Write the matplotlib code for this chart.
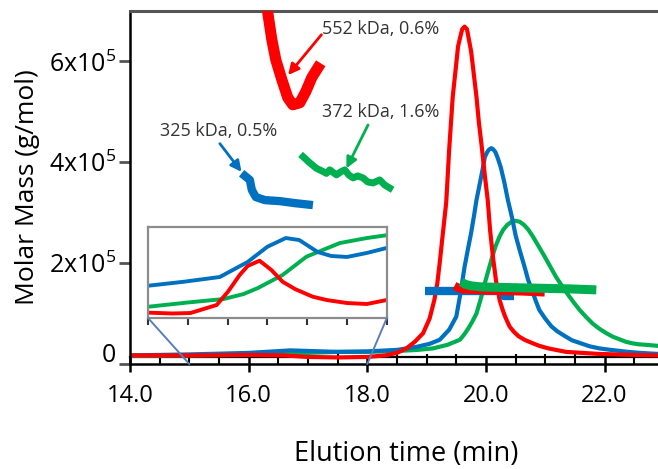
import numpy as np
import matplotlib
matplotlib.use("Agg")
import matplotlib.pyplot as plt
from matplotlib.patches import ConnectionPatch
from matplotlib.transforms import ScaledTranslation

plt.rcParams['font.family'] = ['Open Sans', 'DejaVu Sans']
plt.rcParams['mathtext.default'] = 'regular'

# chromatograms (detector trace, plotted on the molar mass scale, x1e5)
red_t = [14.0, 15.0, 16.0, 16.6, 17.0, 17.5, 18.0, 18.3, 18.5, 18.66, 18.8, 18.94, 19.05, 19.13,
         19.18, 19.22, 19.27, 19.33, 19.38, 19.44, 19.49, 19.53, 19.57, 19.60, 19.64, 19.68,
         19.71, 19.75, 19.79, 19.84, 19.88, 19.93, 19.98, 20.03, 20.07, 20.12, 20.17, 20.23,
         20.28, 20.32, 20.36, 20.40, 20.47, 20.55, 20.65, 20.79, 20.9, 21.05, 21.35, 21.9,
         22.47, 22.9]
red_s = [0.17, 0.17, 0.18, 0.17, 0.14, 0.13, 0.14, 0.17, 0.22, 0.31, 0.44, 0.61, 0.90, 1.27,
         1.6, 2.0, 2.55, 3.2, 4.25, 5.3, 5.85, 6.3, 6.5, 6.64, 6.69, 6.64,
         6.45, 6.2, 5.8, 5.3, 4.8, 4.3, 3.75, 3.25, 2.65, 2.1, 1.65, 1.27,
         1.08, 0.95, 0.84, 0.74, 0.64, 0.55, 0.48, 0.41, 0.36, 0.31, 0.24, 0.20,
         0.18, 0.17]
blue_t = [14.0, 15.0, 16.0, 16.7, 17.5, 18.0, 18.5, 18.83, 19.05, 19.22, 19.38, 19.50, 19.57,
          19.64, 19.70, 19.75, 19.80, 19.84, 19.90, 19.95, 19.98, 20.02, 20.05, 20.09, 20.12,
          20.16, 20.20, 20.25, 20.31, 20.37, 20.44, 20.50, 20.57, 20.65, 20.71, 20.78, 20.84,
          20.90, 21.0, 21.1, 21.2, 21.35, 21.45, 21.6, 21.75, 21.91, 22.1, 22.4, 22.6, 22.9]
blue_s = [0.17, 0.19, 0.22, 0.27, 0.24, 0.25, 0.28, 0.34, 0.40, 0.48, 0.68, 0.94, 1.4,
          1.93, 2.3, 2.6, 2.95, 3.25, 3.6, 3.9, 4.1, 4.2, 4.25, 4.28, 4.26,
          4.2, 4.08, 3.9, 3.6, 3.25, 2.9, 2.55, 2.25, 1.93, 1.67, 1.45, 1.25,
          1.07, 0.9, 0.75, 0.65, 0.54, 0.47, 0.41, 0.35, 0.31, 0.28, 0.24, 0.22, 0.20]
green_t = [14.0, 15.0, 16.0, 17.0, 17.5, 18.0, 18.55, 18.85, 19.11, 19.35, 19.56, 19.63, 19.70,
           19.77, 19.84, 19.91, 19.98, 20.04, 20.10, 20.16, 20.23, 20.29, 20.36, 20.43, 20.50,
           20.57, 20.64, 20.71, 20.79, 20.88, 20.98, 21.08, 21.18, 21.28, 21.38, 21.48, 21.58,
           21.69, 21.8, 21.91, 22.03, 22.14, 22.25, 22.36, 22.47, 22.58, 22.7, 22.9]
green_s = [0.16, 0.17, 0.18, 0.22, 0.24, 0.24, 0.26, 0.28, 0.31, 0.38, 0.48, 0.58, 0.70,
           0.84, 1.00, 1.28, 1.60, 1.85, 2.10, 2.33, 2.53, 2.66, 2.76, 2.82, 2.84,
           2.82, 2.76, 2.67, 2.53, 2.35, 2.15, 1.94, 1.73, 1.55, 1.38, 1.22, 1.07,
           0.93, 0.80, 0.70, 0.61, 0.54, 0.49, 0.44, 0.41, 0.39, 0.38, 0.36]

# molar mass across the peaks (x1e5 g/mol)
red_mm_t = [19.47, 19.52, 19.60, 19.80, 20.20, 20.60, 20.99]
red_mm = [1.55, 1.52, 1.48, 1.47, 1.45, 1.44, 1.42]
blue_mm_t = [18.98, 20.30, 20.30, 20.48]
blue_mm = [1.45, 1.45, 1.35, 1.35]
green_mm_t = [19.58, 19.65, 19.75, 19.90, 20.20, 20.60, 21.00, 21.40, 21.86]
green_mm = [1.63, 1.58, 1.55, 1.53, 1.52, 1.51, 1.50, 1.49, 1.47]

# enlarged molar mass traces (drawn in the empty upper area)
red_zoom_t = [16.323, 16.391, 16.458, 16.559, 16.660, 16.744, 16.862, 16.963, 17.064, 17.165]
red_zoom = [6.96, 6.43, 6.03, 5.64, 5.28, 5.14, 5.18, 5.40, 5.68, 5.87]
blue_zoom_t = [15.936, 16.020, 16.054, 16.121, 16.273, 16.525, 16.778, 17.013]
blue_zoom = [3.73, 3.65, 3.45, 3.31, 3.25, 3.23, 3.19, 3.16]
green_zoom_t = [16.918, 17.030, 17.143, 17.232, 17.311, 17.367, 17.480, 17.552, 17.620,
                17.687, 17.759, 17.838, 17.928, 18.007, 18.096, 18.209, 18.293, 18.377]
green_zoom = [4.11, 3.99, 3.88, 3.83, 3.78, 3.85, 3.75, 3.81, 3.85,
              3.75, 3.69, 3.73, 3.69, 3.61, 3.59, 3.65, 3.55, 3.49]

# inset: baseline region 15-18 min, relative signal
ins_blue_t = [15.0, 15.45, 15.9, 16.25, 16.5, 16.73, 16.9, 17.13, 17.3, 17.5, 17.75, 18.0]
ins_blue = [35.8, 40.2, 45.4, 61.9, 78.7, 88.2, 86.0, 72.9, 68.5, 67.4, 71.8, 77.3]
ins_red_t = [15.0, 15.3, 15.53, 15.86, 16.0, 16.15, 16.25, 16.4, 16.55, 16.69, 16.85, 17.07,
             17.25, 17.5, 17.75, 18.0]
ins_red = [6.2, 5.3, 5.8, 14.6, 28.9, 47.6, 57.5, 63.3, 53.0, 40.2, 32.0, 23.7,
           20.0, 16.8, 15.7, 20.1]
ins_green_t = [15.0, 15.5, 15.95, 16.2, 16.38, 16.69, 16.99, 17.41, 17.75, 18.0]
ins_green = [12.7, 17.4, 21.2, 26.7, 33.3, 47.6, 67.7, 82.7, 88.2, 91.3]

RED, BLUE, GREEN = '#ff0000', '#0070c0', '#00b050'
TXT = '#333333'

fig = plt.figure(figsize=(6.58, 4.69), dpi=100)
ax = fig.add_axes([130/658, 105/469, 528/658, 353/469])

e5 = 1e5
for t, s, c in [(green_t, green_s, GREEN), (blue_t, blue_s, BLUE), (red_t, red_s, RED)]:
    ax.plot(t, np.array(s)*e5, color=c, lw=3, solid_joinstyle='round', zorder=2)

ax.plot(blue_mm_t, np.array(blue_mm)*e5, color=BLUE, lw=6, solid_capstyle='butt', zorder=3)
ax.plot(red_mm_t, np.array(red_mm)*e5, color=RED, lw=6, solid_capstyle='butt', zorder=3)
ax.plot(green_mm_t, np.array(green_mm)*e5, color=GREEN, lw=6.5, solid_capstyle='butt', zorder=3)

ax.plot(red_zoom_t, np.array(red_zoom)*e5, color=RED, lw=8, solid_joinstyle='round', zorder=3)
ax.plot(blue_zoom_t, np.array(blue_zoom)*e5, color=BLUE, lw=6, solid_joinstyle='round', zorder=3)
ax.plot(green_zoom_t, np.array(green_zoom)*e5, color=GREEN, lw=5, solid_joinstyle='round', zorder=3)

# labels and arrows
ax.text(17.23, 6.65*e5, '552 kDa, 0.6%', color=TXT, fontsize=13, va='center', ha='left')
ax.text(17.23, 5.00*e5, '372 kDa, 1.6%', color=TXT, fontsize=13, va='center', ha='left')
ax.text(14.505, 4.62*e5, '325 kDa, 0.5%', color=TXT, fontsize=13, va='center', ha='left')
for tip, tail, c in [((16.665, 5.73*e5), (17.227, 6.53*e5), RED),
                     ((17.648, 3.88*e5), (18.012, 4.74*e5), GREEN),
                     ((15.88, 3.81*e5), (15.515, 4.37*e5), BLUE)]:
    ax.annotate('', xy=tip, xytext=tail,
                arrowprops=dict(arrowstyle='-|>', color=c, lw=2, mutation_scale=16,
                                shrinkA=0, shrinkB=0), zorder=4)

ax.set_xlim(14.0, 22.9)
ax.set_ylim(0, 7.0*e5)
ax.set_xticks([14, 16, 18, 20, 22])
ax.set_xticklabels(['14.0', '16.0', '18.0', '20.0', '22.0'], fontsize=17)
ax.set_xticks(np.arange(14.5, 22.9, 0.5), minor=True)
ax.tick_params(axis='x', which='major', direction='inout', length=11, width=1.8, pad=9)
ax.tick_params(axis='x', which='minor', direction='in', length=7, width=1.5)
ax.set_yticks([0, 2*e5, 4*e5, 6*e5])
ax.set_yticklabels(['0', r'$2x10^5$', r'$4x10^5$', r'$6x10^5$'], fontsize=18)
ax.tick_params(axis='y', direction='out', length=8, width=2, color='#555555', pad=2)
zero_lab = ax.get_yticklabels()[0]
zero_lab.set_transform(zero_lab.get_transform() + ScaledTranslation(0, 0.12, fig.dpi_scale_trans))

ax.spines['right'].set_visible(False)
ax.spines['top'].set_color('#555555')
ax.spines['top'].set_linewidth(2.2)
ax.spines['left'].set_linewidth(1.8)
ax.spines['bottom'].set_linewidth(1.8)
ax.plot([0, 1], [0.0198, 0.0198], transform=ax.transAxes, color='black', lw=1.6,
        clip_on=False, zorder=1)

ax.set_ylabel('Molar Mass (g/mol)', fontsize=19, labelpad=6)
fig.text(406/658, 8/469, 'Elution time (min)', fontsize=19.5, ha='center', va='baseline')

# inset
ins = fig.add_axes([148.3/658, 150.7/469, 238.4/658, 91/469])
ins.plot(ins_green_t, ins_green, color=GREEN, lw=2.8)
ins.plot(ins_red_t, ins_red, color=RED, lw=2.8)
ins.plot(ins_blue_t, ins_blue, color=BLUE, lw=2.8)
ins.set_xlim(15.0, 18.0)
ins.set_ylim(0, 100)
ins.set_xticks(np.arange(15.0, 18.01, 0.5))
ins.set_xticklabels([])
ins.set_yticks([])
ins.tick_params(axis='x', direction='out', length=5, width=1.5, color='#333333')
for s in ins.spines.values():
    s.set_color('#8c8c8c')
    s.set_linewidth(1.6)

for xa, xb in [(0, 15.0), (1, 18.0)]:
    con = ConnectionPatch(xyA=(xa, 0), coordsA=ins.transAxes, xyB=(xb, 0), coordsB=ax.transData,
                          color='#5a7fb8', lw=1.4)
    fig.add_artist(con)

fig.savefig('out.png', dpi=100)
